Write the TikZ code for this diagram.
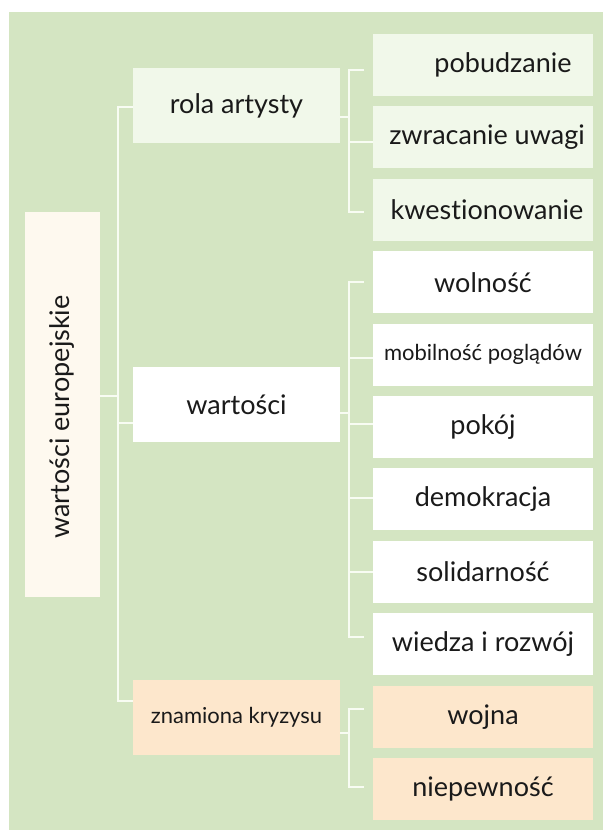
\documentclass[tikz,border=0pt]{standalone}
\usepackage{fontspec}
\setmainfont{Lato}[Ligatures=NoCommon]
\usetikzlibrary{calc}
\definecolor{bggreen}{HTML}{D4E5C2}
\definecolor{lightgreen}{HTML}{F1F8EA}
\definecolor{cream}{HTML}{FEF9EF}
\definecolor{peach}{HTML}{FDE7CC}
\definecolor{linecol}{HTML}{F8FCF3}
\definecolor{txt}{HTML}{1A1A1A}
\tikzset{
  box/.style={rectangle, inner sep=0pt, text=txt, font=\fontsize{27}{31}\selectfont},
  small/.style={font=\fontsize{22}{26}\selectfont},
  leaf/.style={box, minimum width=220pt, minimum height=62pt},
  mid/.style={box, minimum width=207pt, minimum height=75pt},
  conn/.style={draw=linecol, line width=2pt},
}
\begin{document}
\begin{tikzpicture}[x=1pt,y=-1pt]
\useasboundingbox (0,0) rectangle (603,830);
\fill[bggreen] (9,12) rectangle (603,830);
% root
\node[box, fill=cream, minimum width=75pt, minimum height=385pt] (L) at (62.5,404.5) {};
\node[box, rotate=90] (Lt) at (62.5,417) {wartości europejskie};
% middle level
\node[mid, fill=lightgreen] (ra) at (236.5,105.5) {rola artysty};
\node[mid, fill=white] (wa) at (236.5,404.5) {wartości};
\node[mid, fill=peach, small] (zk) at (236.5,717) {znamiona kryzysu};
% leaves
\node[leaf, fill=lightgreen] (p1) at (483,65) {\hspace*{40pt}pobudzanie};
\node[leaf, fill=lightgreen] (p2) at (483,137.4) {\hspace*{8pt}zwracanie uwagi};
\node[leaf, fill=lightgreen] (p3) at (483,209.8) {\hspace*{8pt}kwestionowanie};
\node[leaf, fill=white] (w1) at (483,282.2) {wolność};
\node[leaf, fill=white, small] (w2) at (483,354.6) {mobilność poglądów};
\node[leaf, fill=white] (w3) at (483,427) {pokój};
\node[leaf, fill=white] (w4) at (483,499.4) {demokracja};
\node[leaf, fill=white] (w5) at (483,571.8) {solidarność};
\node[leaf, fill=white] (w6) at (483,644.2) {wiedza i rozwój};
\node[leaf, fill=peach] (k1) at (483,716.6) {wojna};
\node[leaf, fill=peach] (k2) at (483,789) {niepewność};
% level 1 connectors
\draw[conn] ($(ra.west)+(0,1.5)$) -- ($(ra.west)+(-14.5,1.5)$) |- ($(zk.west)+(0,-16)$);
\draw[conn] ($(L.east)+(0,-8.5)$) -- ($(L.east)+(18.5,-8.5)$);
\draw[conn] ($(wa.west)+(-14.5,18.5)$) -- ($(wa.west)+(0,18.5)$);
% rola artysty bracket
\draw[conn] ($(ra.east)+(0,11.5)$) -- ($(ra.east)+(10,11.5)$);
\draw[conn] ($(p1.west)+(-9,5)$) -- ($(p1.west)+(-23.5,5)$) |- ($(p3.west)+(-9,2)$);
\draw[conn] ($(p2.west)+(-23.5,4.6)$) -- ($(p2.west)+(0,4.6)$);
% wartosci bracket
\draw[conn] ($(wa.east)+(0,8.5)$) -- ($(wa.east)+(10,8.5)$);
\draw[conn] ($(w1.west)+(-9,0)$) -- ($(w1.west)+(-23.5,0)$) |- ($(w6.west)+(-9,-7)$);
\draw[conn] ($(w2.west)+(-23.5,3.4)$) -- ($(w2.west)+(0,3.4)$);
\draw[conn] ($(w3.west)+(-23.5,-3)$) -- ($(w3.west)+(0,-3)$);
\draw[conn] ($(w4.west)+(-23.5,-1.4)$) -- ($(w4.west)+(0,-1.4)$);
\draw[conn] ($(w5.west)+(-23.5,0)$) -- ($(w5.west)+(0,0)$);
% znamiona bracket
\draw[conn] ($(zk.east)+(0,16)$) -- ($(zk.east)+(10,16)$);
\draw[conn] ($(k1.west)+(-9,-7.6)$) -- ($(k1.west)+(-23.5,-7.6)$) |- ($(k2.west)+(-9,-2)$);
\end{tikzpicture}
\end{document}
